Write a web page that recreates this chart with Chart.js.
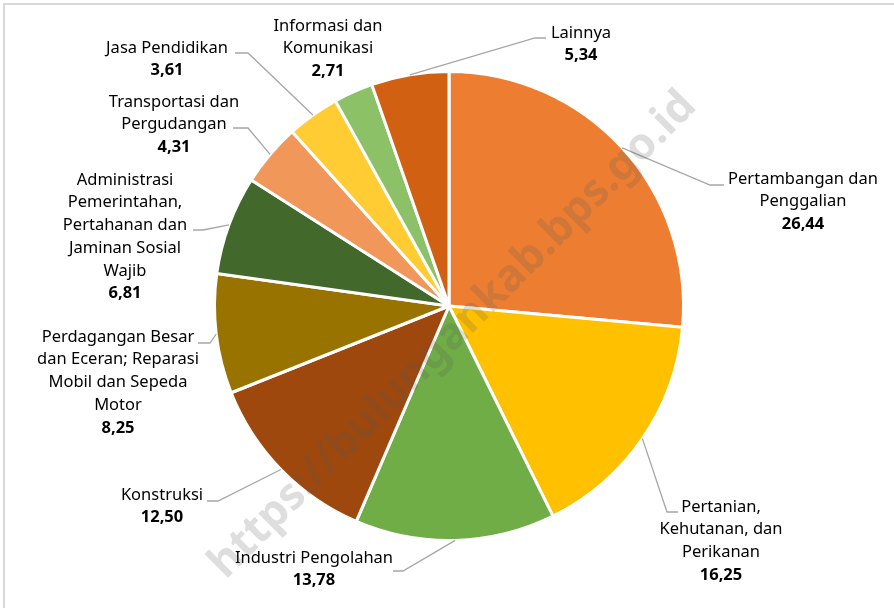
<!DOCTYPE html>
<html>
<head>
<meta charset="utf-8">
<script src="https://cdn.jsdelivr.net/npm/chart.js@4/dist/chart.umd.min.js"></script>
<style>
  html, body { margin: 0; padding: 0; background: #fff; }
  #wrap { position: relative; width: 894px; height: 608px; }
</style>
</head>
<body>
<div id="wrap"><canvas id="pdrb" width="894" height="608"></canvas></div>
<script>
// Distribusi PDRB per lapangan usaha (persen)
const sektor = [
  ['Pertambangan dan', 'Penggalian'],
  ['Pertanian,', 'Kehutanan, dan', 'Perikanan'],
  ['Industri Pengolahan'],
  ['Konstruksi'],
  ['Perdagangan Besar', 'dan Eceran; Reparasi', 'Mobil dan Sepeda', 'Motor'],
  ['Administrasi', 'Pemerintahan,', 'Pertahanan dan', 'Jaminan Sosial', 'Wajib'],
  ['Transportasi dan', 'Pergudangan'],
  ['Jasa Pendidikan'],
  ['Informasi dan', 'Komunikasi'],
  ['Lainnya']
];
const nilai = [26.44, 16.25, 13.78, 12.50, 8.25, 6.81, 4.31, 3.61, 2.71, 5.34];
const warna = ['#ED7D31', '#FFC000', '#70AD47', '#9E480E', '#997300',
               '#43682B', '#F1975A', '#FFCD33', '#8CC168', '#D26012'];

// posisi label: tengah teks (x), baris pertama (y), siku garis dan ujung garis
const posLabel = [
  { x: 803, y: 179, siku: [710, 185], ujung: 724 },
  { x: 721, y: 507, siku: [667, 512], ujung: 678 },
  { x: 314, y: 558, siku: [403, 571], ujung: 393 },
  { x: 162, y: 495, siku: [218, 501], ujung: 207 },
  { x: 118, y: 337, siku: [210, 343], ujung: 198 },
  { x: 125, y: 180, siku: [203, 230], ujung: 193 },
  { x: 174, y: 102, siku: [248, 128], ujung: 233 },
  { x: 167, y: 48,  siku: [248, 53],  ujung: 235 },
  { x: 328, y: 26,  siku: null,       ujung: null },
  { x: 581, y: 33,  siku: [535, 38],  ujung: 546 }
];

const FONT = '"Noto Sans", "Open Sans", sans-serif';
const TINGGI_BARIS = 22.7;

function formatAngka(v) {
  return v.toFixed(2).replace('.', ',');
}

// bingkai tipis di kiri dan atas
const bingkai = {
  id: 'bingkai',
  beforeDraw(chart) {
    const ctx = chart.ctx;
    ctx.save();
    ctx.strokeStyle = '#d9d9d9';
    ctx.lineWidth = 2;
    ctx.beginPath();
    ctx.moveTo(4, chart.height);
    ctx.lineTo(4, 4);
    ctx.lineTo(chart.width, 4);
    ctx.stroke();
    ctx.restore();
  }
};

// label kategori + nilai dengan garis penunjuk
const labelLuar = {
  id: 'labelLuar',
  afterDatasetsDraw(chart) {
    const ctx = chart.ctx;
    const meta = chart.getDatasetMeta(0);
    ctx.save();
    meta.data.forEach((arc, i) => {
      const p = arc.getProps(['x', 'y', 'startAngle', 'endAngle', 'outerRadius'], true);
      const sudut = (p.startAngle + p.endAngle) / 2;
      const pos = posLabel[i];
      if (pos.siku) {
        ctx.strokeStyle = '#a6a6a6';
        ctx.lineWidth = 1.3;
        ctx.beginPath();
        ctx.moveTo(p.x + Math.cos(sudut) * p.outerRadius, p.y + Math.sin(sudut) * p.outerRadius);
        ctx.lineTo(pos.siku[0], pos.siku[1]);
        ctx.lineTo(pos.ujung, pos.siku[1]);
        ctx.stroke();
      }
      ctx.fillStyle = '#000';
      ctx.textAlign = 'center';
      ctx.textBaseline = 'middle';
      const baris = sektor[i];
      ctx.font = '16.5px ' + FONT;
      baris.forEach((t, k) => ctx.fillText(t, pos.x, pos.y + k * TINGGI_BARIS));
      ctx.font = 'bold 16.5px ' + FONT;
      ctx.fillText(formatAngka(nilai[i]), pos.x, pos.y + baris.length * TINGGI_BARIS);
    });
    ctx.restore();
  }
};

// tanda air situs
const tandaAir = {
  id: 'tandaAir',
  afterDraw(chart) {
    const ctx = chart.ctx;
    ctx.save();
    ctx.translate(453, 335);
    ctx.rotate(-Math.PI / 4);
    ctx.font = 'bold 44px ' + FONT;
    ctx.fillStyle = 'rgba(90, 90, 90, 0.2)';
    ctx.textAlign = 'center';
    ctx.textBaseline = 'middle';
    ctx.fillText('https://bulungankab.bps.go.id', 0, 0);
    ctx.restore();
  }
};

try {
  const kanvas = document.getElementById('pdrb');
  const grafik = new Chart(kanvas, {
    type: 'pie',
    data: {
      labels: sektor.map(s => s.join(' ')),
      datasets: [{
        data: nilai,
        backgroundColor: warna,
        borderColor: '#ffffff',
        borderWidth: 3
      }]
    },
    options: {
      responsive: false,
      animation: false,
      layout: {
        padding: { left: 213, right: 209, top: 70, bottom: 66 }
      },
      plugins: {
        legend: { display: false },
        tooltip: { enabled: false }
      }
    },
    plugins: [bingkai, labelLuar, tandaAir]
  });
} catch (error) {
  console.error(error);
}
</script>
</body>
</html>
